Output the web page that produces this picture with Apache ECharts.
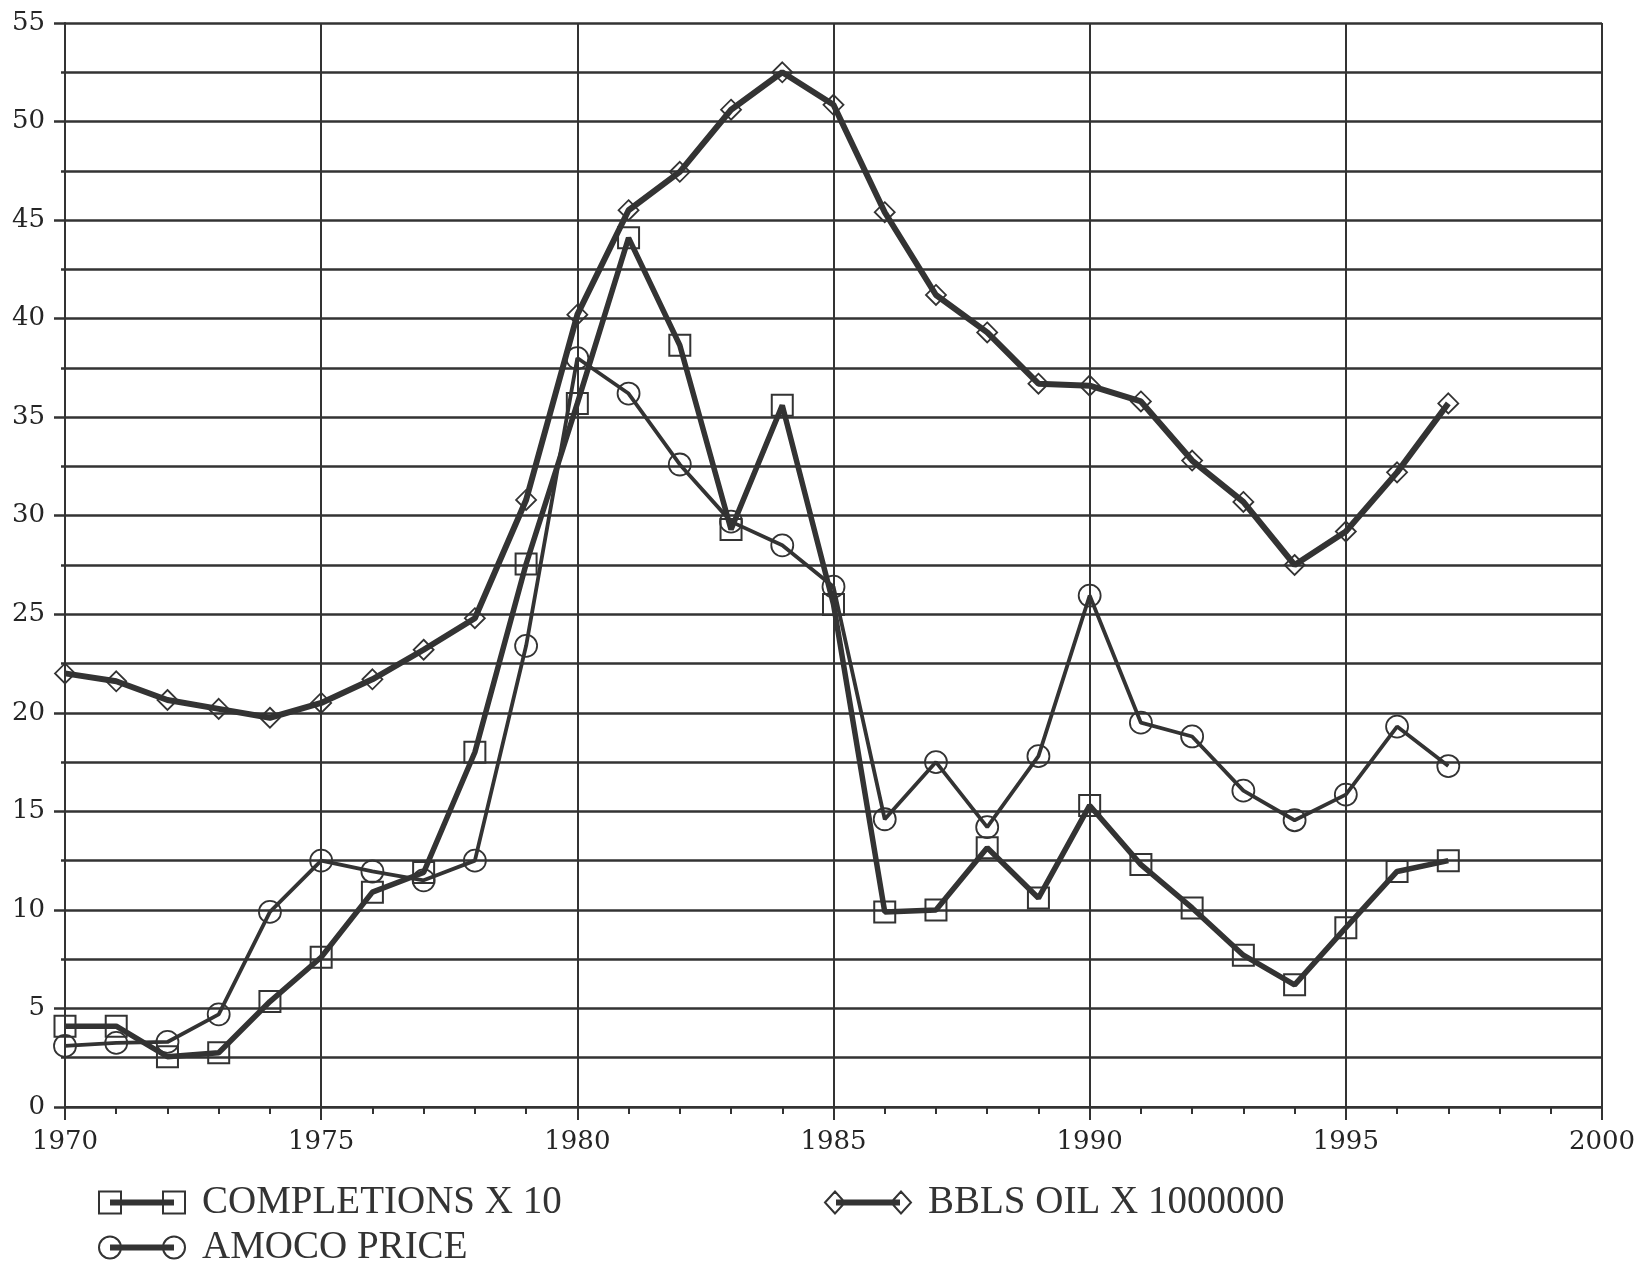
<!DOCTYPE html>
<html>
<head>
<meta charset="utf-8">
<script src="https://cdn.jsdelivr.net/npm/echarts@6/dist/echarts.min.js"></script>
<style>
html,body{margin:0;padding:0;background:#fff;}
#chart{width:1641px;height:1261px;}
</style>
</head>
<body>
<div id="chart"></div>
<script>
const years = [1970,1971,1972,1973,1974,1975,1976,1977,1978,1979,1980,1981,1982,1983,1984,1985,1986,1987,1988,1989,1990,1991,1992,1993,1994,1995,1996,1997];
const completionsX10 = [4.1,4.1,2.55,2.75,5.35,7.6,10.9,11.9,18.0,27.55,35.7,44.1,38.65,29.3,35.6,25.5,9.9,10.0,13.15,10.6,15.3,12.3,10.1,7.7,6.2,9.1,11.95,12.5];
const amocoPrice = [3.1,3.25,3.3,4.7,9.9,12.5,11.95,11.5,12.5,23.4,38.0,36.2,32.6,29.7,28.5,26.4,14.6,17.5,14.2,17.8,25.95,19.5,18.8,16.05,14.55,15.85,19.3,17.3];
const bblsOilX1000000 = [22.0,21.6,20.65,20.2,19.75,20.5,21.7,23.2,24.8,30.8,40.2,45.5,47.45,50.6,52.5,50.85,45.4,41.2,39.3,36.7,36.6,35.8,32.8,30.7,27.5,29.2,32.2,35.7];
const seriesNames = ['COMPLETIONS X 10','AMOCO PRICE','BBLS OIL X 1000000'];
const xTickLabels = ['1970','1975','1980','1985','1990','1995','2000'];
const yTickLabels = ['0','5','10','15','20','25','30','35','40','45','50','55'];

const ink = '#333';
const pair = arr => years.map((y, i) => [y, arr[i]]);

const chart = echarts.init(document.getElementById('chart'), null, {renderer: 'canvas'});
const labelFont = {fontFamily: 'DejaVu Serif', fontSize: 26, color: '#252525'};
const legendText = {fontFamily: 'Liberation Serif', fontSize: 39, color: ink, padding: [0, 0, 0, 12]};
const legendItemStyle = {color: 'rgba(0,0,0,0)', borderColor: ink, borderWidth: 2};
const bar = 'M11,9L75,9 M11,11L75,11 M11,13L75,13';

function legendAt(left, top, name, icon) {
  return {
    orient: 'horizontal', left: left, top: top, padding: 0,
    itemWidth: 86, itemHeight: 22,
    textStyle: legendText, itemStyle: legendItemStyle,
    selectedMode: false,
    data: [{name: name, icon: icon}]
  };
}

chart.setOption({
  animation: false,
  backgroundColor: '#fff',
  grid: {left: 65, right: 39, top: 23, bottom: 154, containLabel: false},
  xAxis: {
    type: 'value', min: 1970, max: 2000, interval: 5,
    axisLine: {show: true, lineStyle: {color: ink, width: 2}},
    axisTick: {show: true, length: 13, lineStyle: {color: ink, width: 2}},
    minorTick: {show: true, splitNumber: 5, length: 7, lineStyle: {color: ink, width: 2}},
    splitLine: {show: true, lineStyle: {color: ink, width: 2}},
    axisLabel: Object.assign({margin: 22, formatter: v => xTickLabels[Math.round((v - 1970) / 5)]}, labelFont)
  },
  yAxis: {
    type: 'value', min: 0, max: 55, interval: 5,
    axisLine: {show: true, lineStyle: {color: ink, width: 2}},
    axisTick: {show: true, length: 11, lineStyle: {color: ink, width: 2.5}},
    minorTick: {show: true, splitNumber: 2, length: 4, lineStyle: {color: ink, width: 2.5}},
    splitLine: {show: true, lineStyle: {color: ink, width: 2.5}},
    minorSplitLine: {show: true, lineStyle: {color: ink, width: 2.5}},
    axisLabel: Object.assign({margin: 20, formatter: v => yTickLabels[Math.round(v / 5)]}, labelFont)
  },
  legend: [
    legendAt(98, 1183, seriesNames[0], 'path://M0,0L22,0L22,22L0,22Z M64,0L86,0L86,22L64,22Z ' + bar),
    legendAt(98, 1228, seriesNames[1], 'path://M0,11A11,11,0,1,0,22,11A11,11,0,1,0,0,11Z M64,11A11,11,0,1,0,86,11A11,11,0,1,0,64,11Z ' + bar),
    legendAt(824, 1183, seriesNames[2], 'path://M0,11L10,0L20,11L10,22Z M66,11L76,0L86,11L76,22Z ' + bar)
  ],
  series: [
    {
      name: seriesNames[0], type: 'line', data: pair(completionsX10),
      symbol: 'rect', symbolSize: 21,
      itemStyle: {color: 'rgba(0,0,0,0)', borderColor: ink, borderWidth: 2},
      lineStyle: {color: ink, width: 5.5}, z: 3
    },
    {
      name: seriesNames[1], type: 'line', data: pair(amocoPrice),
      symbol: 'circle', symbolSize: 22,
      itemStyle: {color: 'rgba(0,0,0,0)', borderColor: ink, borderWidth: 1.8},
      lineStyle: {color: ink, width: 3.8}, z: 3
    },
    {
      name: seriesNames[2], type: 'line', data: pair(bblsOilX1000000),
      symbol: 'diamond', symbolSize: [20, 20],
      itemStyle: {color: 'rgba(0,0,0,0)', borderColor: ink, borderWidth: 1.8},
      lineStyle: {color: ink, width: 6}, z: 3
    }
  ]
});
</script>
</body>
</html>
